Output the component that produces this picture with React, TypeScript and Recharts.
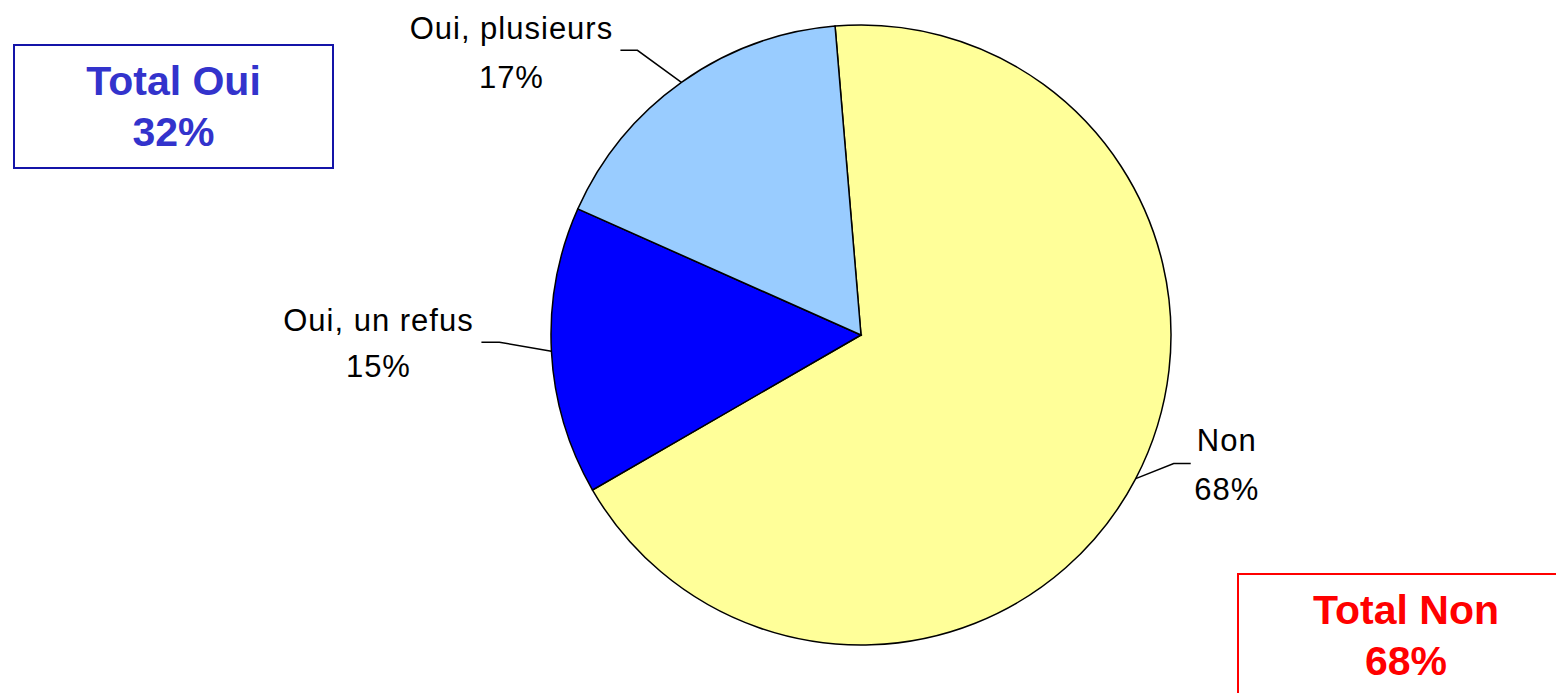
import React from 'react';
import { PieChart, Pie, Cell } from 'recharts';

const categories = ['Non', 'Oui, un refus', 'Oui, plusieurs'];
const shares = [68, 15, 17];
const sliceColors = ['#FFFF99', '#0000FF', '#99CCFF'];

const totalLabels = ['Total Oui', 'Total Non'];
const totalValues = ['32%', '68%'];

// label leader geometry, per slice: elbow offset from the slice edge, tail length, text offset
const labelLayout = [
  { elbowDx: 38, elbowDy: -15, tail: 17, textDx: 36, line1: -25, line2: 24 },
  { elbowDx: -52, elbowDy: -9, tail: -18, textDx: -103, line1: -23, line2: 23 },
  { elbowDx: -44, elbowDy: -32, tail: -17, textDx: -109, line1: -23, line2: 26 },
];

const data = categories.map((name, i) => ({ name, value: shares[i] }));

const RADIAN = Math.PI / 180;
const FONT = '"Liberation Sans", Arial, sans-serif';

function renderLabel(props: any) {
  const { cx, cy, midAngle, outerRadius, index, name, value } = props;
  const lay = labelLayout[index];
  const sx = cx + outerRadius * Math.cos(-midAngle * RADIAN);
  const sy = cy + outerRadius * Math.sin(-midAngle * RADIAN);
  const ex = sx + lay.elbowDx;
  const ey = sy + lay.elbowDy;
  const tx = ex + lay.tail;
  const textX = tx + lay.textDx;
  return (
    <g key={`lbl-${index}`}>
      <polyline
        points={`${sx},${sy} ${ex},${ey} ${tx},${ey}`}
        fill="none"
        stroke="#000"
        strokeWidth={1.5}
      />
      <text
        x={textX}
        y={ey + lay.line1 + 12}
        textAnchor="middle"
        fontFamily={FONT}
        fontSize={31}
        letterSpacing={1}
        fill="#000"
      >
        {name}
      </text>
      <text
        x={textX}
        y={ey + lay.line2 + 12}
        textAnchor="middle"
        fontFamily={FONT}
        fontSize={31}
        letterSpacing={1}
        fill="#000"
      >
        {`${value}%`}
      </text>
    </g>
  );
}

const boxStyle = (left: number, top: number, width: number, border: string): React.CSSProperties => ({
  position: 'absolute',
  left,
  top,
  width,
  height: 125,
  boxSizing: 'border-box',
  border: `2px solid ${border}`,
  background: '#fff',
  fontFamily: FONT,
  fontWeight: 'bold',
  fontSize: 41,
  lineHeight: '51px',
  textAlign: 'center',
  paddingTop: 10,
});

export default function App() {
  return (
    <div
      style={{
        position: 'absolute',
        left: 0,
        top: 0,
        width: 1556,
        height: 693,
        overflow: 'hidden',
        background: '#fff',
      }}
    >
      <PieChart width={1556} height={693} margin={{ top: 0, right: 0, bottom: 0, left: 0 }}>
        <Pie
          data={data}
          dataKey="value"
          nameKey="name"
          cx={861}
          cy={335}
          outerRadius={310}
          startAngle={94.8}
          endAngle={-265.2}
          stroke="#000"
          strokeWidth={1.5}
          label={renderLabel}
          labelLine={false}
          isAnimationActive={false}
        >
          {data.map((d, i) => (
            <Cell key={d.name} fill={sliceColors[i]} />
          ))}
        </Pie>
      </PieChart>
      <div style={{ ...boxStyle(13, 44, 321, '#1414A8'), color: '#3333CC' }}>
        <div>{totalLabels[0]}</div>
        <div>{totalValues[0]}</div>
      </div>
      <div style={{ ...boxStyle(1237, 573, 338, '#FF0000'), color: '#FF0000' }}>
        <div>{totalLabels[1]}</div>
        <div>{totalValues[1]}</div>
      </div>
    </div>
  );
}
